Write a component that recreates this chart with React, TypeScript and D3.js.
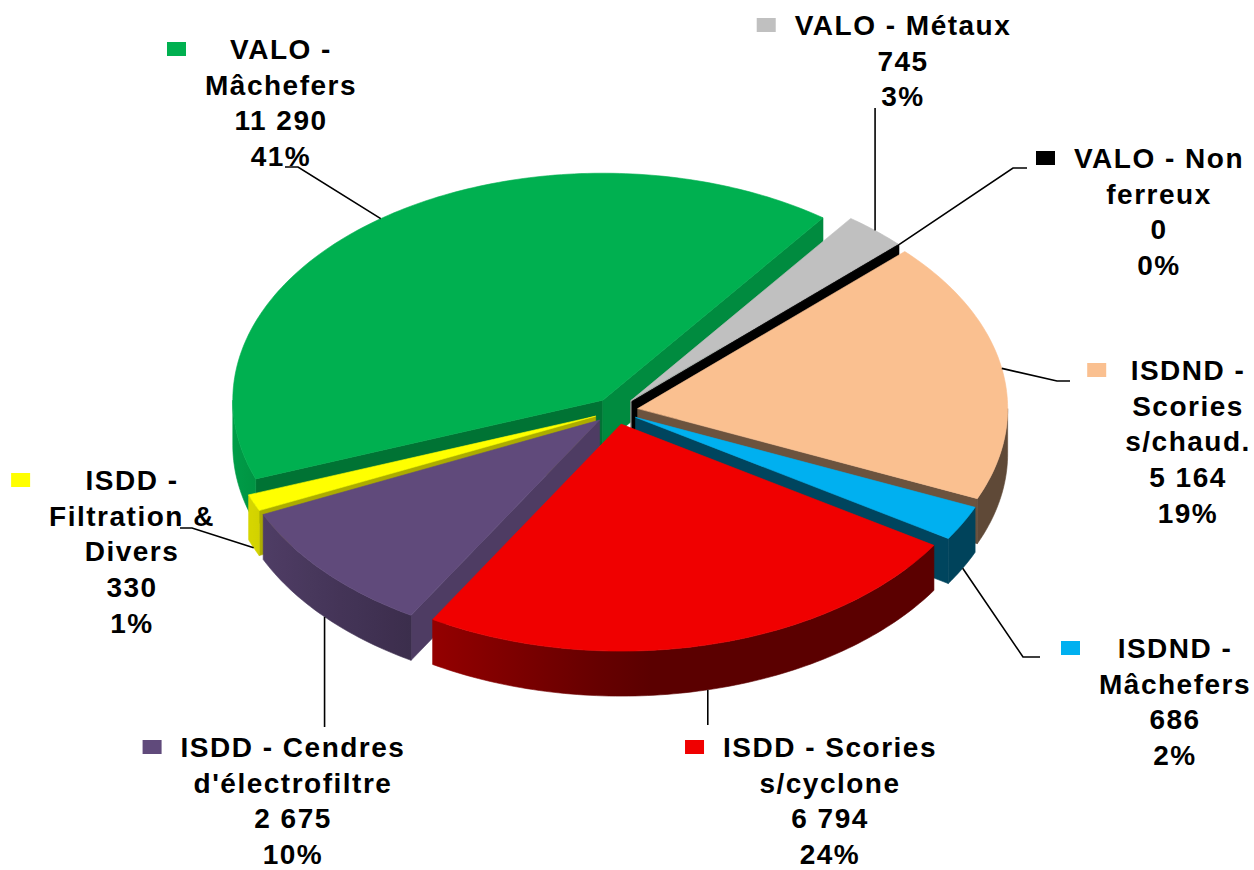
import React, { useEffect, useRef } from "react";
import * as d3 from "d3";

// ---- data ----
const categories = [
  ["VALO -", "Mâchefers"],
  ["VALO - Métaux"],
  ["VALO - Non", "ferreux"],
  ["ISDND -", "Scories", "s/chaud."],
  ["ISDND -", "Mâchefers"],
  ["ISDD - Scories", "s/cyclone"],
  ["ISDD - Cendres", "d'électrofiltre"],
  ["ISDD -", "Filtration &", "Divers"],
];
const values = [11290, 745, 0, 5164, 686, 6794, 2675, 330];
const valueLabels = ["11 290", "745", "0", "5 164", "686", "6 794", "2 675", "330"];
const percentLabels = ["41%", "3%", "0%", "19%", "2%", "24%", "10%", "1%"];
const colors = ["#00B050", "#C0C0C0", "#000000", "#FAC090", "#00B0F0", "#F00000", "#604A7B", "#FFFF00"];

// ---- layout ----
const width = 1254;
const height = 870;
const cx = 616;
const cy = 411;
const rx = 370;
const ry = 227;
const depth = 45;
const explode = 22;
const startDeg = -110.29;
const lineGap = 35.7;

// label block: centre x, baseline of first line
const labelPos = [
  [281, 59],
  [903, 35],
  [1159, 168],
  [1188, 380],
  [1175, 658],
  [830, 757],
  [293, 757],
  [132, 490],
];
// leader line end near the label (x null = straight vertical line)
const leaders = [
  { x: 285, y: 167, elbow: 13 },
  { x: null, y: 108, elbow: 0 },
  { x: 1027, y: 168, elbow: -14 },
  { x: 1070, y: 381, elbow: -13 },
  { x: 1040, y: 657, elbow: -17 },
  { x: null, y: 725, elbow: 0 },
  { x: null, y: 727, elbow: 0 },
  { x: 180, y: 528, elbow: 12 },
];

const App = () => {
  const ref = useRef<SVGSVGElement>(null);

  useEffect(() => {
    const svg = d3.select(ref.current);
    svg.selectAll("*").remove();
    const defs = svg.append("defs");
    const k = ry / rx;
    const a0 = (startDeg * Math.PI) / 180;
    const arcs = d3
      .pie<number>()
      .sort(null)
      .startAngle(a0)
      .endAngle(a0 + 2 * Math.PI)(values);
    const line = d3.line();

    const shade = (c: string, f: number) => {
      const r = d3.rgb(c);
      return d3.rgb(r.r * f, r.g * f, r.b * f).formatHex();
    };
    const pt = (c: number[], a: number, dz = 0): [number, number] => [
      c[0] + rx * Math.sin(a),
      c[1] - ry * Math.cos(a) + dz,
    ];
    const arcPts = (c: number[], s: number, e: number, dz = 0) => {
      const n = Math.max(2, Math.ceil(Math.abs(e - s) / (Math.PI / 180)) + 1);
      return d3.range(n).map((i) => pt(c, s + ((e - s) * i) / (n - 1), dz));
    };
    const outerShade = (a: number) =>
      Math.max(0.38, Math.min(0.95, 0.5 - 0.4 * Math.sin(a) + 0.1 * Math.cos(a)));

    const slices = arcs.map((d, i) => {
      const mid = (d.startAngle + d.endAngle) / 2;
      const c: [number, number] = [
        cx + explode * Math.sin(mid),
        cy - explode * k * Math.cos(mid),
      ];
      return { ...d, i, mid, c };
    });

    // back to front
    const order = slices.slice().sort((p, q) => Math.cos(q.mid) - Math.cos(p.mid));
    const gPie = svg.append("g");

    order.forEach((s) => {
      const col = colors[s.i];
      const sg = gPie.append("g");

      // radial walls facing the viewer
      const walls: [number, number][] = [];
      if (Math.sin(s.startAngle) < 0) walls.push([s.startAngle, -Math.cos(s.startAngle)]);
      if (Math.sin(s.endAngle) > 0) walls.push([s.endAngle, Math.cos(s.endAngle)]);
      walls.forEach(([a, nu]) => {
        const fill = shade(col, 0.55 + 0.3 * nu);
        const pts: [number, number][] = [
          s.c,
          pt(s.c, a),
          pt(s.c, a, depth),
          [s.c[0], s.c[1] + depth],
        ];
        sg.append("path")
          .attr("d", line(pts) + "Z")
          .attr("fill", fill)
          .attr("stroke", fill)
          .attr("stroke-width", 0.6);
      });

      // outer wall, front half only
      [-1, 0, 1].forEach((kk) => {
        const lo = Math.max(s.startAngle, Math.PI / 2 + 2 * Math.PI * kk);
        const hi = Math.min(s.endAngle, (3 * Math.PI) / 2 + 2 * Math.PI * kk);
        if (hi - lo < 1e-4) return;
        const id = `wall-${s.i}-${kk + 1}`;
        const x1 = pt(s.c, lo)[0];
        const x2 = pt(s.c, hi)[0];
        const grad = defs
          .append("linearGradient")
          .attr("id", id)
          .attr("gradientUnits", "userSpaceOnUse")
          .attr("x1", x1)
          .attr("x2", x2 === x1 ? x1 + 1 : x2)
          .attr("y1", 0)
          .attr("y2", 0);
        d3.range(11).forEach((j) => {
          const a = lo + ((hi - lo) * j) / 10;
          const off = x2 === x1 ? j / 10 : (pt(s.c, a)[0] - x1) / (x2 - x1);
          grad.append("stop")
            .attr("offset", Math.max(0, Math.min(1, off)))
            .attr("stop-color", shade(col, outerShade(a)));
        });
        const pts = arcPts(s.c, lo, hi).concat(arcPts(s.c, lo, hi, depth).reverse());
        sg.append("path")
          .attr("d", line(pts) + "Z")
          .attr("fill", `url(#${id})`)
          .attr("stroke", `url(#${id})`)
          .attr("stroke-width", 0.6);
      });

      // top face
      const top = [s.c, ...arcPts(s.c, s.startAngle, s.endAngle)];
      sg.append("path")
        .attr("d", line(top) + "Z")
        .attr("fill", col)
        .attr("stroke", col)
        .attr("stroke-width", 0.6);
    });

    // leader lines
    const gLead = svg.append("g");
    slices.forEach((s) => {
      const L = leaders[s.i];
      const p = pt(s.c, s.mid, Math.cos(s.mid) < 0 ? depth : 0);
      const pts: [number, number][] =
        L.x === null
          ? [p, [p[0], L.y]]
          : [p, [L.x + L.elbow, L.y], [L.x, L.y]];
      gLead.append("path")
        .attr("d", line(pts))
        .attr("fill", "none")
        .attr("stroke", "#000")
        .attr("stroke-width", 1.6);
    });

    // labels
    const gLab = svg
      .append("g")
      .attr("font-family", "'Liberation Sans', Arial, sans-serif")
      .attr("font-weight", "bold")
      .attr("font-size", 28)
      .attr("letter-spacing", "1.5px")
      .attr("fill", "#000");
    slices.forEach((s) => {
      const [x, y] = labelPos[s.i];
      const lines = [...categories[s.i], valueLabels[s.i], percentLabels[s.i]];
      let maxW = 0;
      lines.forEach((t, j) => {
        const node = gLab
          .append("text")
          .attr("x", x)
          .attr("y", y + j * lineGap)
          .attr("text-anchor", "middle")
          .text(t)
          .node() as SVGTextElement;
        maxW = Math.max(maxW, node.getComputedTextLength());
      });
      gLab.append("rect")
        .attr("x", x - maxW / 2 - 38)
        .attr("y", y - 17)
        .attr("width", 19)
        .attr("height", 14)
        .attr("fill", colors[s.i]);
    });
  }, []);

  return (
    <svg
      ref={ref}
      width={width}
      height={height}
      viewBox={`0 0 ${width} ${height}`}
      style={{ position: "absolute", left: 0, top: 0, background: "#fff" }}
    />
  );
};

export default App;
